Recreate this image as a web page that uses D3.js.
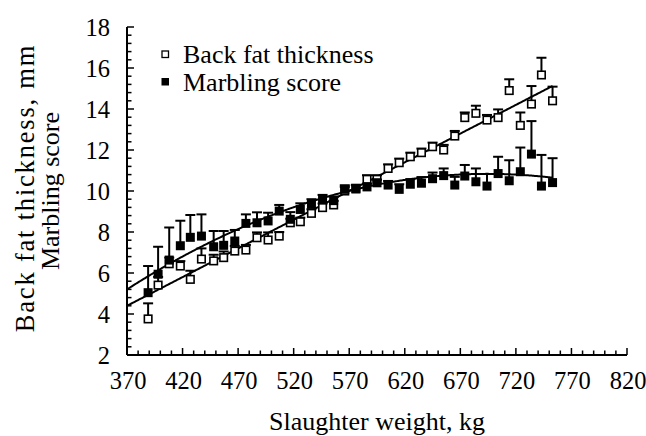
<!DOCTYPE html>
<html><head><meta charset="utf-8">
<script src="https://cdn.jsdelivr.net/npm/d3@7"></script>
<style>
body{margin:0;background:#fff}
svg{display:block}
text{font-family:"Liberation Serif","Times New Roman",serif;fill:#000}
</style>
</head><body>
<svg id="c" width="646" height="436"></svg>
<script>
// ---- data ----
const weights = [389,398,408,418,427,437,448,457,467,477,487,497,507,517,526,536,546,556,566,576,586,595,605,615,625,635,645,655,665,674,684,694,704,714,724,734,743,753];
const backfat = [3.76,5.41,6.45,6.34,5.69,6.68,6.59,6.75,7.07,7.12,7.72,7.61,7.80,8.45,8.50,8.91,9.19,9.32,10.0,10.1,10.57,10.57,11.1,11.38,11.67,11.87,12.16,12.0,12.68,13.58,13.79,13.46,13.58,14.9,13.2,14.24,15.66,14.4];
const backfatErr = [0.76,0.4,0.3,0.24,0.42,0.52,0.3,0.3,0.25,0.25,0.26,0.37,0.2,0.2,0.2,0.2,0.2,0.2,0.2,0.2,0.2,0.2,0.2,0.2,0.2,0.2,0.2,0.25,0.25,0.25,0.37,0.25,0.4,0.55,0.63,0.88,0.84,0.69];
const marbling = [5.04,5.94,6.63,7.33,7.74,7.80,7.28,7.35,7.56,8.42,8.45,8.54,9.02,8.62,9.10,9.35,9.61,9.53,10.08,10.13,10.2,10.4,10.29,10.08,10.33,10.38,10.6,10.75,10.29,10.73,10.45,10.24,10.85,10.5,10.94,11.8,10.24,10.41];
const marblingErr = [1.30,1.34,1.59,1.22,1.09,1.06,0.77,0.70,0.54,0.44,0.51,0.4,0.3,0.35,0.3,0.25,0.2,0.2,0.2,0.15,0.15,0.15,0.2,0.25,0.25,0.3,0.3,0.35,0.4,0.54,0.65,0.59,0.82,1.0,1.18,1.61,1.52,1.19];
const xTicks = [370,420,470,520,570,620,670,720,770,820];
const yTicks = [2,4,6,8,10,12,14,16,18];
// regression fits (in terms of u = weight - 370)
const backfatFit = [4.4, 0.028];
const marblingFit = [5.2, 0.03476, -0.0000536];
const fitRange = [370, 753];
const seriesNames = ["Back fat thickness","Marbling score"];

// ---- drawing ----
const svg = d3.select("#c");
const x = d3.scaleLinear().domain([370,820]).range([127,627]);
const y = d3.scaleLinear().domain([2,18]).range([355,27]);

// axes with minor ticks
const xMinor = d3.range(370, 821, 10);
const yMinor = d3.range(2, 18.001, 0.4);
const ax = svg.append("g");
ax.selectAll(".xm").data(xMinor).join("line")
  .attr("x1", d=>x(d)).attr("x2", d=>x(d))
  .attr("y1", y(2)).attr("y2", d => y(2) - ((d-370)%50===0 ? 7 : 4.5))
  .attr("stroke","#000").attr("stroke-width",1.5);
ax.selectAll(".ym").data(yMinor).join("line")
  .attr("y1", d=>y(d)).attr("y2", d=>y(d))
  .attr("x1", x(370)).attr("x2", (d,i) => x(370) + (i%5===0 ? 7 : 4.5))
  .attr("stroke","#000").attr("stroke-width",1.5);
ax.append("line").attr("x1",x(370)).attr("x2",x(820)).attr("y1",y(2)).attr("y2",y(2)).attr("stroke","#000").attr("stroke-width",2);
ax.append("line").attr("x1",x(370)).attr("x2",x(370)).attr("y1",y(2)).attr("y2",y(18)).attr("stroke","#000").attr("stroke-width",2);

ax.selectAll(".xl").data(xTicks).join("text")
  .attr("x", d=>x(d)+1).attr("y", 389).attr("text-anchor","middle")
  .attr("font-size",24.5).text(d=>d);
ax.selectAll(".yl").data(yTicks).join("text")
  .attr("x", 110).attr("y", d=>y(d)+8.5).attr("text-anchor","end")
  .attr("font-size",24.5).text(d=>d);

svg.append("text").attr("x", 377).attr("y", 430).attr("text-anchor","middle")
  .attr("font-size",26).text("Slaughter weight, kg");
svg.append("text").attr("transform","translate(34,188) rotate(-90)").attr("text-anchor","middle")
  .attr("font-size",26.5).attr("letter-spacing","1.8px").text("Back fat thickness, mm");
svg.append("text").attr("transform","translate(59,191) rotate(-90)").attr("text-anchor","middle")
  .attr("font-size",26).text("Marbling score");

// regression lines
const fitX = d3.range(fitRange[0], fitRange[1]+0.1, 1);
const line = d3.line().x(d=>x(d[0])).y(d=>y(d[1]));
svg.append("path").datum(fitX.map(w=>[w, backfatFit[0]+backfatFit[1]*(w-370)]))
  .attr("d", line).attr("fill","none").attr("stroke","#000").attr("stroke-width",2);
svg.append("path").datum(fitX.map(w=>{const u=w-370; return [w, marblingFit[0]+marblingFit[1]*u+marblingFit[2]*u*u];}))
  .attr("d", line).attr("fill","none").attr("stroke","#000").attr("stroke-width",2);

// error bars + markers
function drawSeries(vals, errs, filled) {
  const g = svg.append("g");
  const data = weights.map((w,i)=>({w, v: vals[i], e: errs[i]}));
  g.selectAll(".eb").data(data).join("line")
    .attr("x1", d=>x(d.w)).attr("x2", d=>x(d.w))
    .attr("y1", d=>y(d.v)).attr("y2", d=>y(d.v+d.e))
    .attr("stroke","#000").attr("stroke-width",2);
  g.selectAll(".cap").data(data).join("line")
    .attr("x1", d=>x(d.w)-5).attr("x2", d=>x(d.w)+5)
    .attr("y1", d=>y(d.v+d.e)).attr("y2", d=>y(d.v+d.e))
    .attr("stroke","#000").attr("stroke-width",2);
  if (filled) {
    g.selectAll(".m").data(data).join("rect")
      .attr("x", d=>x(d.w)-4.5).attr("y", d=>y(d.v)-4.5)
      .attr("width",9).attr("height",9).attr("fill","#000");
  } else {
    g.selectAll(".m").data(data).join("rect")
      .attr("x", d=>x(d.w)-3.75).attr("y", d=>y(d.v)-3.75)
      .attr("width",7.5).attr("height",7.5).attr("fill","#fff")
      .attr("stroke","#000").attr("stroke-width",1.6);
  }
}
drawSeries(backfat, backfatErr, false);
drawSeries(marbling, marblingErr, true);

// legend
const lg = svg.append("g");
lg.append("rect").attr("x",162).attr("y",51).attr("width",6.5).attr("height",6.5)
  .attr("fill","#fff").attr("stroke","#000").attr("stroke-width",1.3);
lg.append("rect").attr("x",161.5).attr("y",78).attr("width",7.5).attr("height",7.5).attr("fill","#000");
lg.append("text").attr("x",183).attr("y",63).attr("font-size",26).text(seriesNames[0]);
lg.append("text").attr("x",183).attr("y",91).attr("font-size",26).text(seriesNames[1]);
</script>
</body></html>
